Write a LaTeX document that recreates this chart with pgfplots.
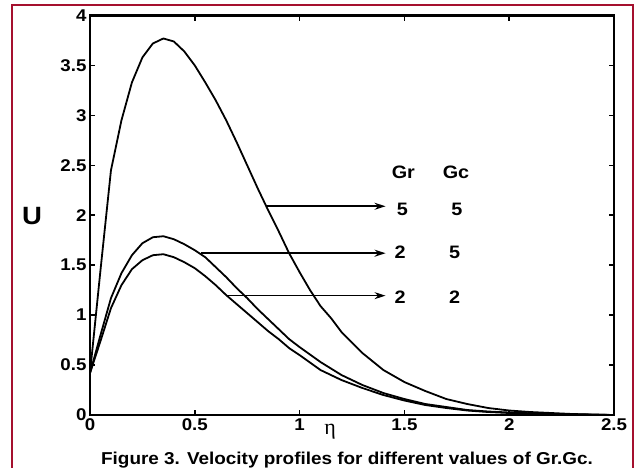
\documentclass[border=0pt]{standalone}
\usepackage{fontspec}
\setmainfont{Liberation Sans}[FakeStretch=1.1]
\newfontfamily\serifgr{Liberation Serif}
\usepackage{pgfplots}
\pgfplotsset{compat=1.18}
\usetikzlibrary{arrows.meta}
\definecolor{borderred}{HTML}{A5102E}
\begin{document}
\begin{tikzpicture}
\path[use as bounding box] (0pt,0pt) rectangle (635pt,-467pt);
\draw[borderred, line width=2pt] (12pt,-5pt) rectangle (633pt,-520pt);
\begin{axis}[
  at={(90pt,-415pt)}, anchor=south west,
  scale only axis, width=524pt, height=399.5pt,
  xmin=0, xmax=2.5, ymin=0, ymax=4,
  xtick={0,0.5,1,1.5,2,2.5}, ytick={0,0.5,1,1.5,2,2.5,3,3.5,4},
  tick align=inside, major tick length=5pt,
  every tick/.style={black, line width=1.6pt},
  tick label style={font=\bfseries\fontsize{17}{17}\selectfont},
  /pgf/number format/assume math mode=true,
  clip=false,
]
% Gr=5, Gc=5
\addplot[black, line width=1.8pt, no markers] coordinates {
(0,0.42)(0.05,1.45)(0.1,2.45)(0.15,2.95)(0.2,3.33)(0.25,3.58)(0.3,3.72)(0.35,3.77)
(0.4,3.74)(0.45,3.64)(0.5,3.50)(0.55,3.33)(0.6,3.15)(0.65,2.95)(0.7,2.73)(0.75,2.50)
(0.8,2.27)(0.85,2.05)(0.9,1.84)(0.95,1.62)(1.0,1.43)(1.05,1.25)(1.1,1.09)(1.15,0.97)
(1.2,0.83)(1.3,0.62)(1.4,0.45)(1.5,0.33)(1.6,0.24)(1.7,0.16)(1.8,0.11)(1.9,0.07)
(2.0,0.045)(2.1,0.03)(2.2,0.02)(2.3,0.01)(2.4,0.005)(2.5,0)};
% Gr=2, Gc=5
\addplot[black, line width=1.8pt, no markers] coordinates {
(0,0.42)(0.05,0.80)(0.1,1.17)(0.15,1.42)(0.2,1.60)(0.25,1.72)(0.3,1.78)(0.35,1.79)
(0.4,1.76)(0.45,1.71)(0.5,1.65)(0.55,1.58)(0.6,1.48)(0.65,1.38)(0.7,1.27)(0.75,1.17)
(0.8,1.06)(0.85,0.96)(0.9,0.86)(0.95,0.76)(1.0,0.68)(1.1,0.53)(1.2,0.40)(1.3,0.30)
(1.4,0.22)(1.5,0.16)(1.6,0.11)(1.7,0.08)(1.8,0.05)(1.9,0.035)(2.0,0.025)(2.2,0.01)(2.5,0)};
% Gr=2, Gc=2
\addplot[black, line width=1.8pt, no markers] coordinates {
(0,0.42)(0.05,0.74)(0.1,1.07)(0.15,1.30)(0.2,1.46)(0.25,1.55)(0.3,1.60)(0.35,1.61)
(0.4,1.58)(0.45,1.53)(0.5,1.47)(0.55,1.39)(0.6,1.30)(0.65,1.20)(0.7,1.11)(0.75,1.02)
(0.8,0.93)(0.85,0.84)(0.9,0.76)(0.95,0.67)(1.0,0.60)(1.1,0.45)(1.2,0.35)(1.3,0.27)
(1.4,0.20)(1.5,0.145)(1.6,0.10)(1.7,0.07)(1.8,0.045)(1.9,0.03)(2.0,0.02)(2.2,0.008)(2.5,0)};
% frame
\draw[line width=2.6pt, line cap=rect] (rel axis cs:0,0) rectangle (rel axis cs:1,1);
% arrows
\draw[line width=1.6pt, -{Stealth[length=11pt,width=7pt]}] (axis cs:0.84,2.09) -- (axis cs:1.41,2.09);
\draw[line width=1.6pt, -{Stealth[length=11pt,width=7pt]}] (axis cs:0.53,1.62) -- (axis cs:1.41,1.62);
\draw[line width=1.6pt, -{Stealth[length=11pt,width=7pt]}] (axis cs:0.65,1.195) -- (axis cs:1.41,1.195);
\begin{scope}[every node/.style={font=\bfseries\fontsize{18}{18}\selectfont}]
\node at (axis cs:1.495,2.43) {Gr};
\node at (axis cs:1.746,2.43) {Gc};
\node at (axis cs:1.49,2.06) {5};
\node at (axis cs:1.75,2.06) {5};
\node at (axis cs:1.48,1.63) {2};
\node at (axis cs:1.74,1.63) {5};
\node at (axis cs:1.48,1.175) {2};
\node at (axis cs:1.74,1.175) {2};
\end{scope}
\end{axis}
\node at (32pt,-216pt) {\bfseries\fontsize{25}{25}\selectfont U};
\node at (330pt,-432pt) {\serifgr\fontsize{22}{22}\selectfont η};
\node[anchor=base] at (347pt,-464pt) {\bfseries\fontsize{17.2}{17.2}\selectfont Figure 3. Velocity profiles for different values of Gr.Gc.};
\end{tikzpicture}
\end{document}
